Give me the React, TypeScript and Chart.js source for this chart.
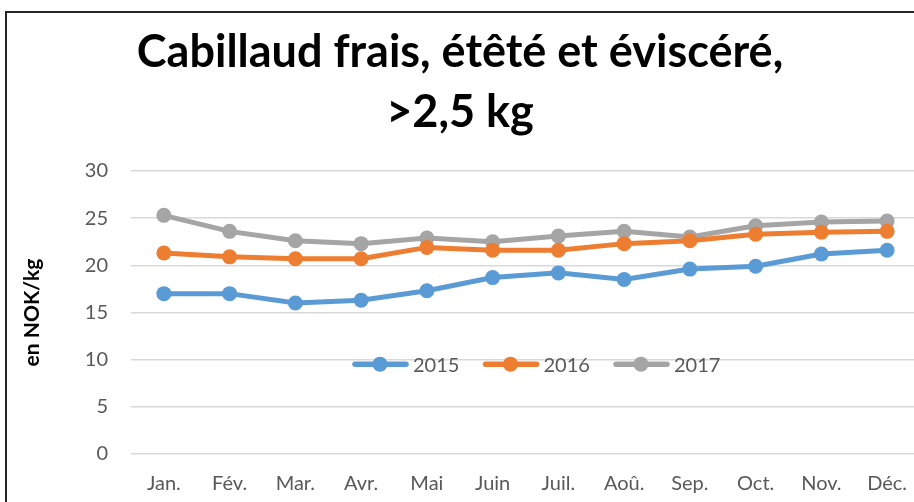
import React, { useEffect, useRef } from "react";
import { Chart, registerables } from "chart.js";

Chart.register(...registerables);

const months = ["Jan.", "Fév.", "Mar.", "Avr.", "Mai", "Juin", "Juil.", "Aoû.", "Sep.", "Oct.", "Nov.", "Déc."];
const s2015 = [17.0, 17.0, 16.0, 16.3, 17.3, 18.7, 19.2, 18.5, 19.6, 19.9, 21.2, 21.6];
const s2016 = [21.3, 20.9, 20.7, 20.7, 21.9, 21.6, 21.6, 22.3, 22.6, 23.3, 23.5, 23.6];
const s2017 = [25.3, 23.6, 22.6, 22.3, 22.9, 22.5, 23.1, 23.6, 23.0, 24.2, 24.6, 24.7];
const seriesNames = ["2015", "2016", "2017"];
const colors = ["#5B9BD5", "#ED7D31", "#A5A5A5"];
const titleLines = ["Cabillaud frais, étêté et éviscéré,", ">2,5 kg"];
const yTitle = "en NOK/kg";

const FONT = "Lato, 'Open Sans', sans-serif";

const insideLegend = {
  id: "insideLegend",
  afterDraw(chart: any) {
    const ctx = chart.ctx;
    const y = chart.scales.y.getPixelForValue(10) + 4.5;
    const startX = 353;
    const step = 130.5;
    ctx.save();
    chart.data.datasets.forEach((ds: any, i: number) => {
      const x0 = startX + i * step;
      ctx.strokeStyle = ds.borderColor;
      ctx.lineWidth = 5.5;
      ctx.lineCap = "round";
      ctx.beginPath();
      ctx.moveTo(x0 + 2, y);
      ctx.lineTo(x0 + 53, y);
      ctx.stroke();
      ctx.fillStyle = ds.borderColor;
      ctx.beginPath();
      ctx.arc(x0 + 27, y, 7.5, 0, Math.PI * 2);
      ctx.fill();
      ctx.fillStyle = "#595959";
      ctx.font = `20px ${FONT}`;
      ctx.textBaseline = "middle";
      ctx.textAlign = "left";
      ctx.fillText(ds.label, x0 + 60, y + 1);
    });
    ctx.restore();
  },
};

export default function App() {
  const ref = useRef<HTMLCanvasElement>(null);
  useEffect(() => {
    if (!ref.current) return;
    const data = [s2015, s2016, s2017];
    const chart = new Chart(ref.current, {
      type: "line",
      data: {
        labels: months,
        datasets: data.map((d, i) => ({
          label: seriesNames[i],
          data: d,
          borderColor: colors[i],
          backgroundColor: colors[i],
          borderWidth: 5,
          pointRadius: 7.5,
          pointBorderWidth: 0,
          pointBackgroundColor: colors[i],
          tension: 0,
        })),
      },
      options: {
        animation: false,
        responsive: false,
        layout: { padding: { left: 0, right: 20, top: 0, bottom: 0 } },
        plugins: {
          legend: { display: false },
          tooltip: { enabled: false },
          title: {
            display: true,
            text: titleLines,
            color: "#000000",
            font: { family: FONT, size: 45, weight: "bold", lineHeight: 1.3333 },
            padding: { top: 22, bottom: 29 },
          },
        },
        scales: {
          x: {
            offset: true,
            grid: { display: false, drawTicks: false, offset: true },
            border: { display: false },
            ticks: { color: "#595959", font: { family: FONT, size: 20 }, padding: 18 },
            afterFit: (s: any) => { s.height = 66; },
          },
          y: {
            min: 0,
            max: 30,
            ticks: { stepSize: 5, color: "#595959", font: { family: FONT, size: 20 }, padding: 23 },
            grid: { color: "#D9D9D9", lineWidth: 1.5, drawTicks: false },
            border: { display: false },
            title: {
              display: true,
              text: yTitle,
              color: "#000000",
              font: { family: FONT, size: 21, weight: "bold" },
              padding: { top: 20, bottom: 0 },
            },
            afterFit: (s: any) => { s.width = 131; },
          },
        },
      },
      plugins: [insideLegend],
    });
    return () => chart.destroy();
  }, []);

  return (
    <div style={{ position: "fixed", left: 0, top: 0, width: 914, height: 502, overflow: "hidden", background: "#fff" }}>
      <div style={{ position: "absolute", left: 5, top: 11, width: 960, height: 560, border: "2px solid #262626", boxSizing: "border-box" }} />
      <canvas ref={ref} width={940} height={520} style={{ position: "absolute", left: 0, top: 0, width: 940, height: 520 }} />
    </div>
  );
}
